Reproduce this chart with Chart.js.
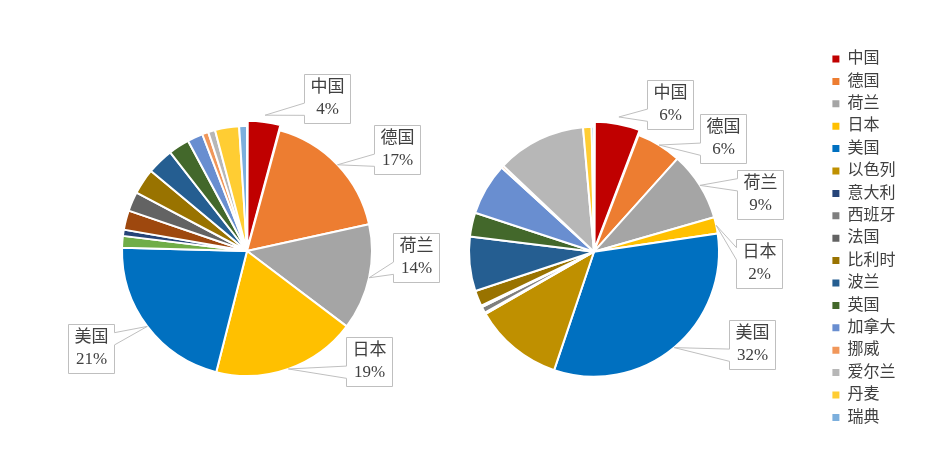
<!DOCTYPE html>
<html>
<head>
<meta charset="utf-8">
<script src="https://cdn.jsdelivr.net/npm/chart.js@4.4.1/dist/chart.umd.min.js"></script>
<style>
  html, body { margin: 0; padding: 0; background: #fff; }
  #wrap { position: relative; width: 933px; height: 462px; overflow: hidden; }
  #left  { position: absolute; left: 0; top: 0; }
  #right { position: absolute; left: 362px; top: 0; }
</style>
</head>
<body>
<div id="wrap">
  <canvas id="left" width="494" height="462"></canvas>
  <canvas id="right" width="571" height="462"></canvas>
</div>
<script>
// countries, same order in both pies
const countries = ['中国', '德国', '荷兰', '日本', '美国', '以色列', '意大利', '西班牙',
                   '法国', '比利时', '波兰', '英国', '加拿大', '挪威', '爱尔兰', '丹麦', '瑞典'];

// share in %
const leftShare  = [4.2, 17.3, 13.7, 18.6, 21.4, 1.5, 0.8, 2.5,
                    2.5, 3.3, 3.4, 2.7, 2.0, 0.8, 0.9, 3.1, 1.0];
const rightShare = [5.8, 5.8, 8.9, 2.1, 32.4, 11.5, 0.2, 0.8,
                    0.2, 2.0, 7.0, 3.1, 6.7, 0.3, 11.5, 1.1, 0.3];

// the right pie (and the legend) use custom colours for 以色列 / 西班牙
const rightColors = ['#C00000', '#ED7D31', '#A5A5A5', '#FFC000', '#0070C0', '#BF9000', '#264478', '#7F7F7F',
                     '#636363', '#997300', '#255E91', '#43682B', '#698ED0', '#F1975A', '#B7B7B7', '#FFCD33', '#7CAFDD'];
const leftColors  = rightColors.slice();
leftColors[5] = '#70AD47';
leftColors[7] = '#9E480E';

const SERIF = '"Liberation Serif", "Times New Roman", "Noto Sans CJK SC", serif';

// Office-style wedgeRectCallout outline
function wedgePath(ctx, l, t, w, h, tx, ty) {
  const r = l + w, b = t + h;
  const dx = tx - (l + w / 2), dy = ty - (t + h / 2);
  const x1 = l + w * (dx > 0 ? 7 : 2) / 12, x2 = l + w * (dx > 0 ? 10 : 5) / 12;
  const y1 = t + h * (dy > 0 ? 7 : 2) / 12, y2 = t + h * (dy > 0 ? 10 : 5) / 12;
  const vert = Math.abs(dy) - Math.abs(dx * h / w) > 0;
  ctx.moveTo(l, t);
  if (vert && dy < 0) { ctx.lineTo(x1, t); ctx.lineTo(tx, ty); ctx.lineTo(x2, t); }
  ctx.lineTo(r, t);
  if (!vert && dx > 0) { ctx.lineTo(r, y1); ctx.lineTo(tx, ty); ctx.lineTo(r, y2); }
  ctx.lineTo(r, b);
  if (vert && dy > 0) { ctx.lineTo(x2, b); ctx.lineTo(tx, ty); ctx.lineTo(x1, b); }
  ctx.lineTo(l, b);
  if (!vert && dx < 0) { ctx.lineTo(l, y2); ctx.lineTo(tx, ty); ctx.lineTo(l, y1); }
  ctx.closePath();
}

// callout labels for the first slices, box centre given relative to the pie centre
const calloutPlugin = {
  id: 'callouts',
  afterDatasetsDraw(chart, args, opts) {
    const ctx  = chart.ctx;
    const meta = chart.getDatasetMeta(0);
    const vals = chart.data.datasets[0].data;
    ctx.save();
    ctx.font = '17px ' + SERIF;
    opts.boxes.forEach(([bx, by], i) => {
      const arc = meta.data[i];
      const mid = (arc.startAngle + arc.endAngle) / 2;
      const rr  = arc.outerRadius + (arc.options.offset || 0);
      const tx  = arc.x + Math.cos(mid) * rr;
      const ty  = arc.y + Math.sin(mid) * rr;
      const lines = [chart.data.labels[i], Math.round(vals[i]) + '%'];
      const w = Math.round(Math.max(...lines.map(s => ctx.measureText(s).width)) + 12);
      const h = 49;
      const l = Math.round(arc.x + bx - w / 2) + 0.5;
      const t = Math.round(arc.y + by - h / 2) + 0.5;
      ctx.beginPath();
      wedgePath(ctx, l, t, w, h, tx, ty);
      ctx.fillStyle = '#fff';
      ctx.fill();
      ctx.strokeStyle = '#bfbfbf';
      ctx.lineWidth = 1;
      ctx.stroke();
      ctx.fillStyle = '#404040';
      ctx.textAlign = 'center';
      ctx.textBaseline = 'middle';
      ctx.fillText(lines[0], l + w / 2, t + h / 2 - 11);
      ctx.fillText(lines[1], l + w / 2, t + h / 2 + 11);
    });
    ctx.restore();
  }
};

function pieConfig(values, colors, boxes, padding, showLegend) {
  return {
    type: 'pie',
    data: {
      labels: countries,
      datasets: [{
        data: values,
        backgroundColor: colors,
        borderColor: '#fff',
        borderWidth: 2,
        offset: values.map((v, i) => (i === 0 ? 12 : 0)),
      }]
    },
    options: {
      responsive: false,
      animation: false,
      radius: 125,
      layout: { padding },
      plugins: {
        tooltip: { enabled: false },
        callouts: { boxes },
        legend: {
          display: showLegend,
          position: 'right',
          align: 'start',
          labels: {
            boxWidth: 7,
            boxHeight: 7,
            padding: 6.4,
            color: '#404040',
            font: { family: SERIF, size: 16 },
            generateLabels: (chart) => chart.data.labels.map((text, i) => ({
              text,
              fillStyle: colors[i],
              strokeStyle: colors[i],
              lineWidth: 0,
              fontColor: '#404040',
              hidden: false,
              index: i,
            })),
          }
        }
      }
    },
    plugins: [calloutPlugin]
  };
}

new Chart(document.getElementById('left'), pieConfig(
  leftShare, leftColors,
  [[80, -153], [150, -102], [169, 6], [122, 110], [-156, 97]],
  { top: 40, bottom: 0, left: 0, right: 0 }, false));

new Chart(document.getElementById('right'), pieConfig(
  rightShare, rightColors,
  [[76, -147], [129, -113], [166, -57], [165, 12], [158, 93]],
  { top: 44.6, bottom: 3.2, left: 0, right: 27.6 }, true));
</script>
</body>
</html>
